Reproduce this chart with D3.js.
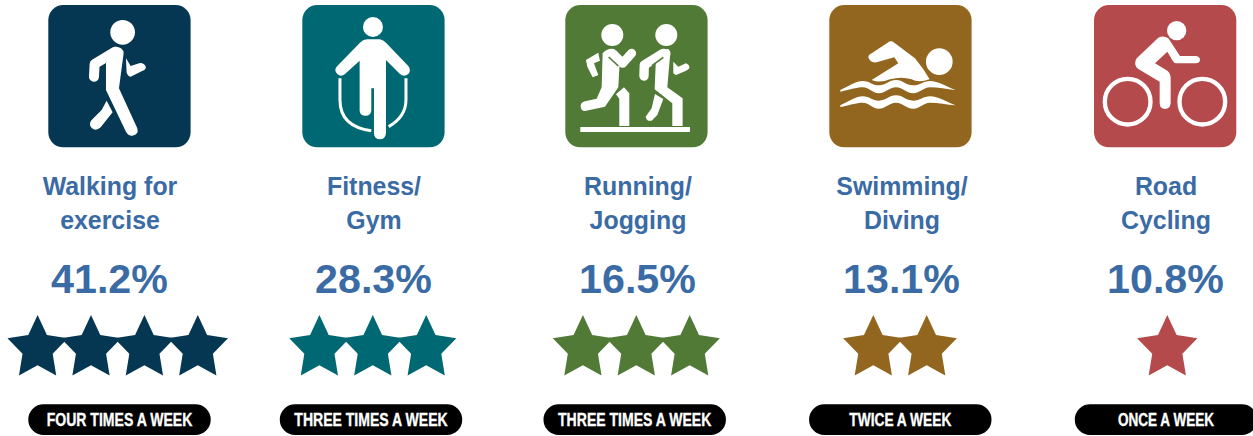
<!DOCTYPE html>
<html>
<head>
<meta charset="utf-8">
<script src="https://cdn.jsdelivr.net/npm/d3@7"></script>
<style>
  html, body { margin: 0; padding: 0; background: #fff; overflow: hidden; }
  text { font-family: "Liberation Sans", Arial, sans-serif; font-weight: 700; }
</style>
</head>
<body>
<svg id="chart" width="1253" height="436"></svg>
<script>
// values
const activities = ["Walking for exercise", "Fitness/ Gym", "Running/ Jogging", "Swimming/ Diving", "Road Cycling"];
const labelLines = [["Walking for", "exercise"], ["Fitness/", "Gym"], ["Running/", "Jogging"], ["Swimming/", "Diving"], ["Road", "Cycling"]];
const shares = [41.2, 28.3, 16.5, 13.1, 10.8];
const starCounts = [4, 3, 3, 2, 1];
const frequencies = ["FOUR TIMES A WEEK", "THREE TIMES A WEEK", "THREE TIMES A WEEK", "TWICE A WEEK", "ONCE A WEEK"];
const colors = ["#053752", "#006872", "#527a37", "#93661f", "#b44a4b"];

// the columns are not quite evenly spaced in the original
const iconLeft = [48.3, 302.3, 565.3, 829.3, 1094];
const iconOrigin = [145, 67, 46, 43, 42]; // icon drawings below are in 3x units
const starCentre = [117.7, 372.8, 636.3, 900, 1167.3];
const pillCentre = [119.5, 371, 634.7, 900.3, 1166];
const pillTextWidth = [145.6, 153.3, 153.3, 102, 96];
const blue = "#3a6ba5";

const svg = d3.select("#chart");
const x = d3.scalePoint().domain(activities).range([110, 1166]);

const wave = "M76 270C100 258 125 243 143 243C165 243 170 256 192 256C212 256 222 240 243 240C265 240 272 256 295 256C315 256 325 243 345 243C370 243 395 260 422 270C395 268 370 262 345 262C325 262 315 280 295 280C272 280 265 262 243 262C222 262 212 280 192 280C170 280 165 262 143 262C125 262 100 270 76 275Z";

const iconParts = [
  // walker
  [
    { c: [368, 97, 37] },
    { s: "M345 155L284 192L282 230", w: 30 },
    { d: "M318 190L345 140Q370 140 371 160L357 265L412 385Q418 405 397 407Q385 408 378 395L318 270Z" },
    { d: "M320 302L338 337L302 382Q285 397 272 380Q266 368 278 357L305 330Z" },
    { d: "M378 175L392 198L420 189Q435 189 438 203Q436 210 425 214L392 230Q385 230 380 218Z" }
  ],
  // skipping rope
  [
    { c: [279, 81, 30] },
    { d: "M262 118L300 118Q310 120 318 128L385 198Q395 212 385 222Q372 232 360 222L318 180L318 400Q316 418 300 418Q283 418 282 400L282 265L274 265L274 332Q272 347 257 347Q240 347 239 332L239 182L195 222Q183 232 172 222Q160 210 172 198L240 128Q250 118 262 118Z" },
    { s: "M180 235L180 300Q180 380 274 392", w: 9, cap: "butt" },
    { s: "M378 235L378 300Q378 350 326 380", w: 9, cap: "butt" }
  ],
  // two runners
  [
    { c: [187, 105, 33] },
    { c: [349, 105, 33] },
    { s: "M190 162L218 190L245 160", w: 27 },
    { d: "M158 160Q172 143 192 147L210 175L205 262L165 320L105 333Q92 333 92 318Q92 307 105 304L140 296L155 262Z" },
    { s: "M176 171L205 198", w: 5, slit: true, cap: "butt" },
    { d: "M108 180L145 158L150 182L132 190L145 225L128 232L112 200Z" },
    { d: "M198 283L222 262L238 280L238 378L208 378L208 296Z" },
    { d: "M91 381H420V396H91Z" },
    { s: "M340 160L283 195L282 228", w: 28 },
    { d: "M318 175Q335 145 355 147Q365 155 360 170L352 262L398 295L398 378L367 378L367 310L314 268Z" },
    { s: "M340 172L306 197", w: 5, slit: true, cap: "butt" },
    { d: "M315 282L340 297L322 345L305 362Q290 365 287 350L305 325Z" },
    { d: "M370 185L385 200L408 190Q420 195 418 205Q415 210 405 214L378 225L370 220Z" }
  ],
  // swimmer
  [
    { c: [373, 185, 40] },
    { d: "M162 165L218 128Q228 120 238 128L300 175Q325 205 344 238Q310 250 290 238Q260 228 225 238Q195 250 170 240L250 190L238 172L185 187Q165 190 160 172Z" },
    { d: wave },
    { d: wave, dy: 46 }
  ],
  // cyclist
  [
    { c: [290, 92, 29] },
    { c: [143, 305, 75], ring: 13 },
    { c: [367, 305, 75], ring: 13 },
    { d: "M235 113Q250 105 265 115L300 168L348 168Q360 170 360 180Q358 190 348 190L290 190Q282 190 278 182L262 155L225 190L262 212Q272 220 272 235L272 310Q270 327 255 327Q240 327 239 310L239 245L175 207Q158 195 170 175Z" }
  ]
];

// five pointed star, a bit taller than wide like the original
const starRadius = 31.7;
const starStretch = 1.057;
const star = d3.lineRadial().curve(d3.curveLinearClosed)(
  d3.range(10).map(i => [i * Math.PI / 5, i % 2 ? starRadius * 0.5 : starRadius])
);

const columns = svg.selectAll("g.column")
  .data(activities)
  .join("g")
  .attr("class", "column");

columns.each(function (name, i) {
  const col = d3.select(this);

  // icon tile
  const icon = col.append("g").attr("transform", `translate(${iconLeft[i]},5)`);
  icon.append("rect")
    .attr("width", 142.3).attr("height", 142.3).attr("rx", 15)
    .attr("fill", colors[i]);

  const drawing = icon.append("g")
    .attr("transform", `scale(${1 / 3}) translate(${-iconOrigin[i]},-15)`);
  iconParts[i].forEach(p => {
    if (p.c) {
      drawing.append("circle")
        .attr("cx", p.c[0]).attr("cy", p.c[1]).attr("r", p.ring ? p.c[2] - p.ring / 2 : p.c[2])
        .attr("fill", p.ring ? "none" : "#fff")
        .attr("stroke", p.ring ? "#fff" : "none")
        .attr("stroke-width", p.ring || 0);
    } else if (p.s) {
      drawing.append("path")
        .attr("d", p.s).attr("fill", "none").attr("stroke", p.slit ? colors[i] : "#fff")
        .attr("stroke-width", p.w)
        .attr("stroke-linecap", p.cap || "round").attr("stroke-linejoin", "round");
    } else {
      drawing.append("path").attr("d", p.d).attr("fill", "#fff")
        .attr("transform", p.dy ? `translate(0,${p.dy})` : null);
    }
  });

  // label, two lines
  labelLines[i].forEach((line, k) => {
    col.append("text")
      .attr("x", x(name)).attr("y", 194.6 + k * 34.7)
      .attr("text-anchor", "middle")
      .attr("font-size", 24.9)
      .attr("fill", blue)
      .text(line);
  });

  // share
  col.append("text")
    .attr("x", x(name) - 0.5).attr("y", 293)
    .attr("text-anchor", "middle")
    .attr("font-size", 41.2)
    .attr("fill", blue)
    .text(d3.format(".1f")(shares[i]) + "%");

  // stars
  col.selectAll("path.star")
    .data(d3.range(starCounts[i]))
    .join("path")
    .attr("class", "star")
    .attr("d", star)
    .attr("fill", colors[i])
    .attr("transform", k => `translate(${starCentre[i] + (k - (starCounts[i] - 1) / 2) * 53.4},348.5) scale(1,${starStretch})`);

  // frequency pill
  col.append("rect")
    .attr("x", pillCentre[i] - 91.2).attr("y", 404.3)
    .attr("width", 182.4).attr("height", 30.7).attr("rx", 15.3)
    .attr("fill", "#000");
  col.append("text")
    .attr("x", pillCentre[i] - pillTextWidth[i] / 2).attr("y", 426)
    .style("font-family", "'Liberation Sans Narrow', 'Liberation Sans', sans-serif")
    .attr("font-size", 17.6)
    .attr("textLength", pillTextWidth[i])
    .attr("lengthAdjust", "spacingAndGlyphs")
    .attr("fill", "#fff")
    .attr("stroke", "#fff")
    .attr("stroke-width", 0.35)
    .text(frequencies[i]);
});
</script>
</body>
</html>
